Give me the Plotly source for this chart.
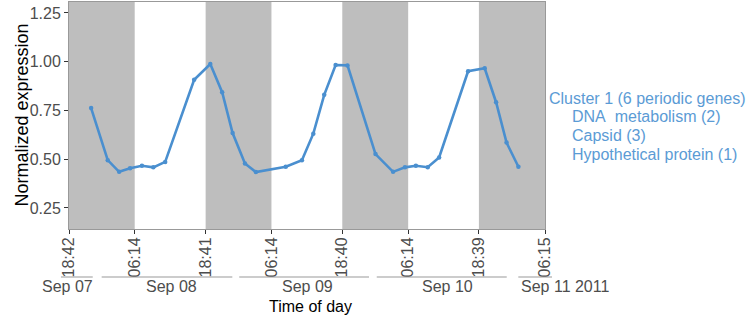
import plotly.graph_objects as go
from datetime import datetime

# ---- data ----
times = [
    "2011-09-07 22:35", "2011-09-08 01:30", "2011-09-08 03:30", "2011-09-08 05:25",
    "2011-09-08 07:30", "2011-09-08 09:30", "2011-09-08 11:35", "2011-09-08 16:40",
    "2011-09-08 19:30", "2011-09-08 21:35", "2011-09-08 23:25", "2011-09-09 01:35",
    "2011-09-09 03:30", "2011-09-09 08:45", "2011-09-09 11:35", "2011-09-09 13:35",
    "2011-09-09 15:30", "2011-09-09 17:30", "2011-09-09 19:35", "2011-09-10 00:30",
    "2011-09-10 03:35", "2011-09-10 05:40", "2011-09-10 07:35", "2011-09-10 09:40",
    "2011-09-10 11:40", "2011-09-10 16:45", "2011-09-10 19:40", "2011-09-10 21:40",
    "2011-09-10 23:30", "2011-09-11 01:35",
]
expression = [
    0.762, 0.495, 0.435, 0.453, 0.466, 0.458, 0.486, 0.907,
    0.988, 0.843, 0.634, 0.478, 0.434, 0.461, 0.495, 0.631,
    0.830, 0.983, 0.981, 0.526, 0.435, 0.458, 0.466, 0.459,
    0.509, 0.951, 0.966, 0.792, 0.585, 0.461,
]
sunsets = ["2011-09-07 18:42", "2011-09-08 18:41", "2011-09-09 18:40", "2011-09-10 18:39"]
sunrises = ["2011-09-08 06:14", "2011-09-09 06:14", "2011-09-10 06:14", "2011-09-11 06:15"]
y_ticks = [0.25, 0.50, 0.75, 1.00, 1.25]

day_labels = ["Sep 07", "Sep 08", "Sep 09", "Sep 10", "Sep 11 2011"]
day_label_pos = ["2011-09-07 18:21", "2011-09-08 12:44", "2011-09-09 12:39",
                 "2011-09-10 13:08", "2011-09-11 01:41"]
day_label_anchor = ["center", "center", "center", "center", "left"]
day_line_start = ["2011-09-07 17:17", "2011-09-08 00:26", "2011-09-09 00:35",
                  "2011-09-10 00:43", "2011-09-11 01:34"]
day_line_end = ["2011-09-07 22:52", "2011-09-08 23:22", "2011-09-09 23:22",
                "2011-09-10 23:32", "2011-09-11 07:29"]

legend_title = "Cluster 1 (6 periodic genes)"
legend_items = ["DNA\u00a0 metabolism (2)", "Capsid (3)", "Hypothetical protein (1)"]

LINE = "#4a8fcf"
TEXT_BLUE = "#5b9bd5"
GREY_TXT = "#4d4d4d"
FONT = "Arial, Liberation Sans, sans-serif"

X0, X1 = sunsets[0], sunrises[-1]
_t0 = datetime.fromisoformat(X0)
_t1 = datetime.fromisoformat(X1)


def to_paper(t):
    """Map a time onto the x axis' paper fraction (same linear scale as the axis)."""
    return (datetime.fromisoformat(t) - _t0) / (_t1 - _t0)


fig = go.Figure()
fig.add_trace(go.Scatter(
    x=times, y=expression, mode="lines+markers",
    line=dict(color=LINE, width=2.6),
    marker=dict(color=LINE, size=4.5),
    showlegend=False,
))

shapes = []
for s, r in zip(sunsets, sunrises):
    shapes.append(dict(type="rect", xref="x", yref="paper", x0=s, x1=r, y0=0, y1=1,
                       fillcolor="#bebebe", line=dict(width=0), layer="below"))
for a, b in zip(day_line_start, day_line_end):
    shapes.append(dict(type="line", xref="paper", yref="paper", x0=to_paper(a), x1=to_paper(b),
                       y0=-0.2115, y1=-0.2115, line=dict(color="#999999", width=1.2)))

annotations = []
for lab, pos, anc in zip(day_labels, day_label_pos, day_label_anchor):
    annotations.append(dict(text=lab, x=to_paper(pos), xref="paper", y=0, yref="paper",
                            yanchor="middle", xanchor=anc, yshift=-57, showarrow=False,
                            font=dict(family=FONT, size=16, color=GREY_TXT)))
annotations.append(dict(text="Time of day", x=0.5, xref="paper", y=0, yref="paper",
                        yanchor="middle", xanchor="center", yshift=-77, xshift=3,
                        showarrow=False, font=dict(family=FONT, size=16, color="black")))
annotations.append(dict(text="Normalized expression", x=0, xref="paper", y=0.5, yref="paper",
                        xanchor="center", yanchor="middle", xshift=-48, textangle=-90,
                        showarrow=False, font=dict(family=FONT, size=18, color="black")))
annotations.append(dict(text=legend_title, x=1, xref="paper", y=1, yref="paper",
                        xanchor="left", yanchor="middle", xshift=2, yshift=-96,
                        showarrow=False, font=dict(family=FONT, size=16, color=TEXT_BLUE)))
for i, item in enumerate(legend_items):
    annotations.append(dict(text=item, x=1, xref="paper", y=1, yref="paper",
                            xanchor="left", yanchor="middle", xshift=25,
                            yshift=-96 - 18.7 * (i + 1), showarrow=False,
                            font=dict(family=FONT, size=16, color=TEXT_BLUE)))

tickvals = []
for s, r in zip(sunsets, sunrises):
    tickvals += [s, r]
ticktext = [t[-5:] for t in tickvals]

fig.update_layout(
    width=747, height=320,
    margin=dict(l=69, r=202, t=2, b=91, autoexpand=False),
    paper_bgcolor="white", plot_bgcolor="white",
    font=dict(family=FONT),
    shapes=shapes, annotations=annotations,
    xaxis=dict(
        type="date", range=[X0, X1], automargin=False,
        tickvals=tickvals, ticktext=ticktext, tickangle=-90,
        ticks="outside", ticklen=4, tickcolor="#333333", ticklabelstandoff=-3,
        tickfont=dict(family=FONT, size=16, color=GREY_TXT),
        showgrid=False, zeroline=False,
        showline=True, linecolor="#999999", linewidth=1, mirror=True,
    ),
    yaxis=dict(
        range=[0.142, 1.306], tickvals=y_ticks, automargin=False,
        ticktext=[f"{v:.2f}" for v in y_ticks],
        ticks="outside", ticklen=4, tickcolor="#333333",
        tickfont=dict(family=FONT, size=16, color=GREY_TXT),
        showgrid=False, zeroline=False,
        showline=True, linecolor="#999999", linewidth=1, mirror=True,
    ),
)

fig.write_html("out.html", config={"displayModeBar": False},
               post_script="document.body.style.margin='0px';document.body.style.overflow='hidden';")
